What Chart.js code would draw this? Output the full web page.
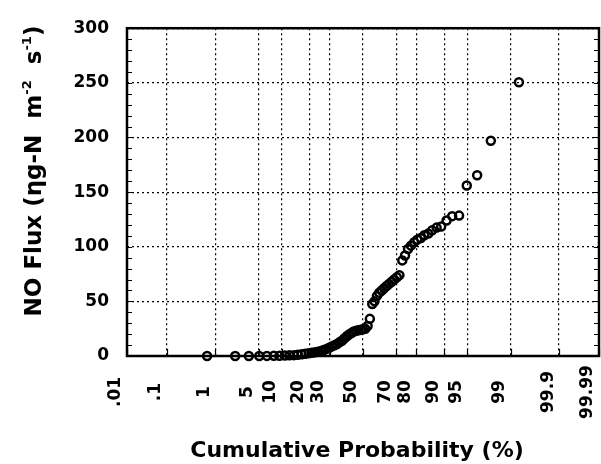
<!DOCTYPE html>
<html>
<head>
<meta charset="utf-8">
<script src="https://cdn.jsdelivr.net/npm/chart.js@4"></script>
<style>
  html, body { margin: 0; padding: 0; background: #fff; }
  #wrap { width: 601px; height: 464px; }
</style>
</head>
<body>
<div id="wrap"><canvas id="chart" width="601" height="464"></canvas></div>
<script>
// probability axis ticks (percent) and their printed labels
const probTicks = [0.01, 0.1, 1, 5, 10, 20, 30, 50, 70, 80, 90, 95, 99, 99.9, 99.99];
const probLabels = ['.01', '.1', '1', '5', '10', '20', '30', '50', '70', '80', '90', '95', '99', '99.9', '99.99'];
const yTicks = [0, 50, 100, 150, 200, 250, 300];

const cumProb = [0.7, 2.2, 3.6, 5.1, 6.5, 8.0, 9.4, 10.9, 12.3, 13.8,
    15.2, 16.7, 18.1, 19.6, 21.0, 22.5, 23.9, 25.4, 26.8, 28.3,
    29.7, 31.2, 32.6, 34.1, 35.5, 37.0, 38.4, 39.9, 41.3, 42.8,
    44.2, 45.7, 47.1, 48.6, 50.0, 51.4, 52.9, 54.3, 55.8, 57.2,
    58.7, 60.1, 61.6, 63.0, 64.5, 65.9, 67.4, 68.8, 70.3, 71.7,
    73.2, 74.6, 76.1, 77.5, 79.0, 80.4, 81.9, 83.3, 84.8, 86.2,
    87.7, 89.1, 90.6, 92.0, 93.5, 94.9, 96.4, 97.8, 99.3];

// NO flux (ng-N m-2 s-1)
const noFlux = [0, 0, 0, 0, 0.1, 0.2, 0.3, 0.4, 0.6, 0.8,
    1.2, 1.6, 2.0, 2.5, 3.0, 3.5, 4.0, 4.6, 5.5, 6.5,
    7.5, 8.8, 9.8, 11.0, 12.5, 14.0, 16.0, 18.0, 19.6, 21.0,
    22.5, 23.0, 23.5, 24.0, 24.5, 25.0, 27.5, 34.0, 47.5, 50.0,
    55.0, 58.0, 60.0, 62.0, 64.0, 66.0, 68.0, 70.0, 72.0, 74.0,
    87.5, 92.0, 98.0, 101.0, 104.0, 106.5, 108.0, 110.5, 112.0, 115.0,
    117.5, 118.5, 124.0, 128.0, 128.5, 156.0, 165.5, 197.0, 250.5];

// inverse normal CDF (Acklam), used to put probabilities on a normal scale
function probit(p) {
    const a = [-39.69683028665376, 220.9460984245205, -275.9285104469687, 138.3577518672690, -30.66479806614716, 2.506628277459239];
    const b = [-54.47609879822406, 161.5858368580409, -155.6989798598866, 66.80131188771972, -13.28068155288572];
    const c = [-0.007784894002430293, -0.3223964580411365, -2.400758277161838, -2.549732539343734, 4.374664141464968, 2.938163982698783];
    const d = [0.007784695709041462, 0.3224671290700398, 2.445134137142996, 3.754408661907416];
    const pl = 0.02425;
    let q, r;
    if (p < pl) {
        q = Math.sqrt(-2 * Math.log(p));
        return (((((c[0]*q+c[1])*q+c[2])*q+c[3])*q+c[4])*q+c[5]) / ((((d[0]*q+d[1])*q+d[2])*q+d[3])*q+1);
    }
    if (p <= 1 - pl) {
        q = p - 0.5; r = q * q;
        return (((((a[0]*r+a[1])*r+a[2])*r+a[3])*r+a[4])*r+a[5])*q / (((((b[0]*r+b[1])*r+b[2])*r+b[3])*r+b[4])*r+1);
    }
    q = Math.sqrt(-2 * Math.log(1 - p));
    return -(((((c[0]*q+c[1])*q+c[2])*q+c[3])*q+c[4])*q+c[5]) / ((((d[0]*q+d[1])*q+d[2])*q+d[3])*q+1);
}

const FONT = '"DejaVu Sans", sans-serif';

// frame, inner ticks, rotated probability labels and the axis titles
const decorPlugin = {
    id: 'decor',
    beforeDatasetsDraw(chart) {
        const { ctx, chartArea: ca, scales } = chart;
        ctx.save();
        ctx.strokeStyle = '#000';
        ctx.lineWidth = 1.2;
        ctx.beginPath();
        for (let v = 10; v < 300; v += 10) {
            const y = Math.round(scales.y.getPixelForValue(v)) + 0.5;
            ctx.moveTo(ca.left, y); ctx.lineTo(ca.left + 5, y);
            ctx.moveTo(ca.right, y); ctx.lineTo(ca.right - 5, y);
        }
        probTicks.forEach(p => {
            const x = Math.round(scales.x.getPixelForValue(probit(p / 100))) + 0.5;
            ctx.moveTo(x, ca.bottom); ctx.lineTo(x, ca.bottom - 7);
        });
        ctx.stroke();
        ctx.lineWidth = 2.5;
        ctx.strokeRect(ca.left, ca.top, ca.right - ca.left, ca.bottom - ca.top);
        ctx.restore();
    },
    afterDraw(chart) {
        const { ctx, scales } = chart;
        ctx.save();
        ctx.fillStyle = '#000';
        ctx.font = 'bold 17px ' + FONT;
        ctx.textAlign = 'center';
        ctx.textBaseline = 'middle';
        probTicks.forEach((p, i) => {
            const x = scales.x.getPixelForValue(probit(p / 100)) - 11;
            ctx.save();
            ctx.translate(x, 392);
            ctx.rotate(-Math.PI / 2);
            ctx.fillText(probLabels[i], 0, 0);
            ctx.restore();
        });

        // x title
        ctx.font = 'bold 22px ' + FONT;
        ctx.textBaseline = 'alphabetic';
        ctx.fillText('Cumulative Probability (%)', 357, 457);

        // y title with superscripts
        const parts = [
            { t: 'NO Flux (\u03b7g-N  m', sup: false },
            { t: '-2', sup: true },
            { t: '  s', sup: false },
            { t: '-1', sup: true },
            { t: ')', sup: false }
        ];
        const big = 'bold 23px ' + FONT, small = 'bold 13px ' + FONT;
        let total = 0;
        parts.forEach(pt => { ctx.font = pt.sup ? small : big; total += ctx.measureText(pt.t).width; });
        ctx.save();
        ctx.translate(41, 171);
        ctx.rotate(-Math.PI / 2);
        ctx.textAlign = 'left';
        let cx = -total / 2;
        parts.forEach(pt => {
            ctx.font = pt.sup ? small : big;
            ctx.fillText(pt.t, cx, pt.sup ? -10 : 0);
            cx += ctx.measureText(pt.t).width;
        });
        ctx.restore();
        ctx.restore();
    }
};

const points = cumProb.map((p, i) => ({ x: probit(p / 100), y: noFlux[i] }));

new Chart(document.getElementById('chart'), {
    type: 'scatter',
    data: {
        datasets: [{
            data: points,
            pointStyle: 'circle',
            pointRadius: 4,
            pointBorderWidth: 2.5,
            pointBorderColor: '#000',
            pointBackgroundColor: 'rgba(0,0,0,0)',
            clip: false
        }]
    },
    options: {
        responsive: false,
        animation: false,
        events: [],
        layout: { autoPadding: false, padding: { top: 20, right: 2, left: 0, bottom: 0 } },
        plugins: { legend: { display: false }, tooltip: { enabled: false } },
        scales: {
            x: {
                type: 'linear',
                min: probit(0.0001),
                max: probit(0.9999),
                afterBuildTicks: axis => { axis.ticks = probTicks.map(p => ({ value: probit(p / 100) })); },
                afterFit: axis => { axis.height = 108; },
                ticks: { display: false },
                grid: { color: '#000', lineWidth: 1.2, drawTicks: false },
                border: { display: false, dash: [2, 3] }
            },
            y: {
                min: 0,
                max: 300,
                afterBuildTicks: axis => { axis.ticks = yTicks.map(v => ({ value: v })); },
                afterFit: axis => { axis.width = 127; },
                ticks: {
                    color: '#000',
                    padding: 18,
                    font: { family: FONT, size: 17, weight: 'bold' }
                },
                grid: { color: '#000', lineWidth: 1.2, drawTicks: false },
                border: { display: false, dash: [2, 3] }
            }
        }
    },
    plugins: [decorPlugin]
});
</script>
</body>
</html>
